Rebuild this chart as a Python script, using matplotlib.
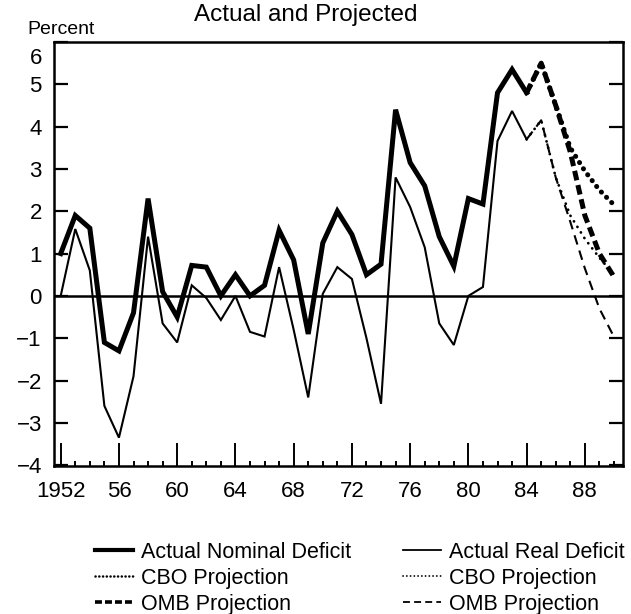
import matplotlib
matplotlib.use("Agg")
import matplotlib.pyplot as plt
from matplotlib.lines import Line2D
from matplotlib.ticker import MultipleLocator, FixedLocator
from matplotlib.transforms import ScaledTranslation

plt.rcParams['font.family'] = ['Liberation Sans', 'DejaVu Sans']
plt.rcParams['lines.scale_dashes'] = False

# ---- data (percent) ----
years_actual = list(range(1952, 1985))
nominal_actual = [1.0, 1.9, 1.6, -1.1, -1.3, -0.4, 2.3, 0.1, -0.5, 0.72,
                  0.68, 0.0, 0.5, 0.0, 0.25, 1.55, 0.85, -0.9, 1.25, 2.0,
                  1.45, 0.5, 0.75, 4.4, 3.15, 2.6, 1.4, 0.7, 2.3, 2.17,
                  4.8, 5.35, 4.8]
real_actual = [0.0, 1.58, 0.6, -2.6, -3.35, -1.9, 1.4, -0.65, -1.1, 0.25,
               -0.05, -0.57, 0.0, -0.85, -0.96, 0.68, -0.8, -2.4, 0.05, 0.68,
               0.4, -1.0, -2.55, 2.8, 2.1, 1.15, -0.65, -1.16, 0.0, 0.21,
               3.66, 4.37, 3.7]

years_proj = [1984, 1985, 1986, 1987, 1988, 1989, 1990]
cbo_nominal = [4.8, 5.5, 4.5, 3.5, 2.95, 2.5, 2.15]
omb_nominal = [4.8, 5.5, 4.5, 3.4, 1.9, 1.0, 0.45]
cbo_real = [3.7, 4.15, 2.8, 1.9, 1.35, 0.9, 0.5]
omb_real = [3.7, 4.15, 2.8, 1.75, 0.65, -0.3, -0.97]

x_major = list(range(1952, 1989, 4))
x_labels = ['1952', '56', '60', '64', '68', '72', '76', '80', '84', '88']
y_ticks = list(range(-4, 7))

legend_labels = ['Actual Nominal Deficit', 'CBO Projection', 'OMB Projection',
                 'Actual Real Deficit', 'CBO Projection', 'OMB Projection']

# ---- figure ----
fig = plt.figure(figsize=(6.31, 6.14), dpi=100)
W, H = 631, 614
ax = fig.add_axes([54.3 / W, 1 - 466 / H, (623.3 - 54.3) / W, (466 - 42) / H])

THICK = 3.6
THIN = 1.5

ax.plot(years_actual, nominal_actual, color='black', lw=THICK, solid_joinstyle='miter')
ax.plot(years_proj, cbo_nominal, color='black', lw=THICK,
        linestyle=(0, (0.1, 5.2)), dash_capstyle='round')
ax.plot(years_proj, omb_nominal, color='black', lw=THICK, linestyle=(0, (7, 3.5)))
ax.plot(years_actual, real_actual, color='black', lw=THIN, solid_joinstyle='miter')
ax.plot(years_proj, cbo_real, color='black', lw=2.0,
        linestyle=(0, (0.1, 4.6)), dash_capstyle='round')
ax.plot(years_proj, omb_real, color='black', lw=THIN, linestyle=(0, (7, 4.5)))

ax.axhline(0, color='black', lw=1.8)

ax.set_xlim(1951.56, 1990.64)
ax.set_ylim(-4.02, 5.96)

ax.xaxis.set_major_locator(FixedLocator(x_major))
ax.set_xticklabels(x_labels)
ax.xaxis.set_minor_locator(MultipleLocator(1))
ax.set_yticks(y_ticks)
ax.set_yticklabels([str(v).replace('-', '\u2212') for v in y_ticks])

ax.tick_params(axis='x', which='major', direction='in', length=16.5, width=1.4,
               pad=11, labelsize=16, top=False, bottom=True)
ax.tick_params(axis='x', which='minor', direction='in', length=3.8, width=1.4,
               top=False, bottom=True)
ax.tick_params(axis='y', which='major', direction='in', length=10, width=1.6,
               pad=9, labelsize=16, left=True, right=True)

# shift the "6" label down as in the original
for lab in ax.get_yticklabels():
    if lab.get_text() == '6':
        lab.set_transform(lab.get_transform() + ScaledTranslation(0, -14 / 100, fig.dpi_scale_trans))

for sp in ax.spines.values():
    sp.set_linewidth(1.8)

fig.text(306 / W, 1 - 15 / H, 'Actual and Projected', ha='center', va='center', fontsize=17.5)
fig.text(27 / W, 1 - 29 / H, 'Percent', ha='left', va='center', fontsize=14)

# legend proxies (legend samples are drawn finer than the plotted lines)
handles = [
    Line2D([], [], color='black', lw=3.0),
    Line2D([], [], color='black', lw=1.8, linestyle=(0, (0.1, 2.6)), dash_capstyle='round'),
    Line2D([], [], color='black', lw=2.6, linestyle=(0, (5, 2.2))),
    Line2D([], [], color='black', lw=1.3),
    Line2D([], [], color='black', lw=1.3, linestyle=(0, (0.1, 2.6)), dash_capstyle='round'),
    Line2D([], [], color='black', lw=1.3, linestyle=(0, (5, 3))),
]
leg = fig.legend(handles=handles, labels=legend_labels,
                 ncol=2, loc='upper left', bbox_to_anchor=(95 / W, 1 - 541.5 / H),
                 frameon=False, fontsize=15.5, handlelength=1.75, handletextpad=0.4,
                 labelspacing=0.24, columnspacing=2.4, borderpad=0, borderaxespad=0)

fig.savefig('out.png', dpi=100, facecolor='white')
